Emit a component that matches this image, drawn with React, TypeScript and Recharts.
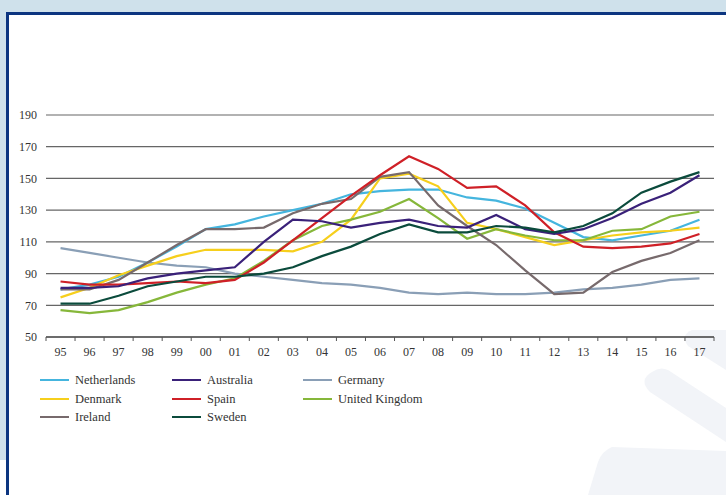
import React from "react";
import { LineChart, Line, XAxis, YAxis, CartesianGrid } from "recharts";

// House price index, 1995–2017
const years = ["95", "96", "97", "98", "99", "00", "01", "02", "03", "04", "05", "06", "07", "08", "09", "10", "11", "12", "13", "14", "15", "16", "17"];

const netherlands = [80, 83, 88, 97, 107, 118, 121, 126, 130, 134, 140, 142, 143, 143, 138, 136, 131, 122, 113, 111, 114, 117, 124];
const australia = [81, 81, 82, 87, 90, 92, 94, 110, 124, 123, 119, 122, 124, 120, 119, 127, 118, 115, 118, 125, 134, 141, 152];
const germany = [106, 103, 100, 97, 95, 94, 90, 88, 86, 84, 83, 81, 78, 77, 78, 77, 77, 78, 80, 81, 83, 86, 87];
const denmark = [75, 81, 89, 95, 101, 105, 105, 105, 104, 110, 124, 150, 153, 145, 122, 118, 113, 108, 111, 114, 116, 117, 119];
const spain = [85, 83, 83, 84, 85, 84, 86, 97, 111, 125, 139, 152, 164, 156, 144, 145, 133, 116, 107, 106, 107, 109, 115];
const unitedKingdom = [67, 65, 67, 72, 78, 83, 87, 98, 111, 120, 124, 129, 137, 125, 112, 118, 114, 111, 111, 117, 118, 126, 129];
const ireland = [80, 80, 86, 97, 108, 118, 118, 119, 128, 134, 137, 151, 154, 133, 120, 108, 92, 77, 78, 91, 98, 103, 111];
const sweden = [71, 71, 76, 82, 85, 88, 88, 90, 94, 101, 107, 115, 121, 116, 116, 120, 119, 116, 120, 128, 141, 148, 154];

const yTicks = [50, 70, 90, 110, 130, 150, 170, 190];

// legend order (3 columns, row by row)
const legendOrder = ["Netherlands", "Australia", "Germany", "Denmark", "Spain", "United Kingdom", "Ireland", "Sweden"];

const series = [
  { name: "Germany", color: "#8a9fb6", values: germany },
  { name: "Netherlands", color: "#45b5de", values: netherlands },
  { name: "Denmark", color: "#f6cf1c", values: denmark },
  { name: "United Kingdom", color: "#86b73a", values: unitedKingdom },
  { name: "Ireland", color: "#776a6c", values: ireland },
  { name: "Spain", color: "#cf2027", values: spain },
  { name: "Australia", color: "#3a2179", values: australia },
  { name: "Sweden", color: "#0b4b3c", values: sweden },
];

const data = years.map((year, i) => {
  const row: Record<string, number | string> = { i, year };
  series.forEach((s) => (row[s.name] = s.values[i]));
  return row;
});

const FONT = "'Liberation Serif', 'DejaVu Serif', serif";
const TEXT = "#333";
const AXIS = "#555";
const TICK_MARGIN = 10;
const PLOT_W = 726 - 46 - 12;

// year label centred in its band, with tick marks on the band edges
function YearTick(props: any) {
  const { x, y, payload } = props;
  const w = typeof props.width === "number" && props.width > 0 ? props.width : PLOT_W;
  const half = w / years.length / 2;
  const axisY = y - TICK_MARGIN;
  const last = payload.value === years.length - 1;
  return (
    <g>
      <line x1={x - half} x2={x - half} y1={axisY} y2={axisY + 4} stroke={AXIS} strokeWidth={1} />
      {last && <line x1={x + half} x2={x + half} y1={axisY} y2={axisY + 4} stroke={AXIS} strokeWidth={1} />}
      <text x={x} y={axisY + 19} textAnchor="middle" fontSize={12} fill={TEXT} fontFamily={FONT}>
        {years[payload.value]}
      </text>
    </g>
  );
}

function Legend() {
  const colorOf = (n: string) => series.find((s) => s.name === n)!.color;
  const colX = [40, 172, 303];
  const rowY = [371, 390, 408];
  return (
    <div style={{ position: "absolute", left: 0, top: 0 }}>
      {legendOrder.map((name, k) => {
        const left = colX[k % 3];
        const top = rowY[Math.floor(k / 3)];
        return (
          <div key={name} style={{ position: "absolute", left, top, display: "flex", alignItems: "center", whiteSpace: "nowrap" }}>
            <div style={{ width: 29, height: 2, background: colorOf(name), marginRight: 6 }} />
            <span style={{ fontFamily: FONT, fontSize: 12.5, color: TEXT, lineHeight: "18px" }}>{name}</span>
          </div>
        );
      })}
    </div>
  );
}

export default function App() {
  return (
    <div style={{ position: "absolute", left: 0, top: 0, width: 726, height: 495, overflow: "hidden", background: "#cfe1eb" }}>
      <div style={{ position: "absolute", left: 0, top: 460, width: 8, height: 40, background: "#fff" }} />
      <div
        style={{
          position: "absolute",
          left: 6,
          top: 12,
          width: 760,
          height: 520,
          background: "#fff",
          borderLeft: "3px solid #0c3580",
          borderTop: "3px solid #0c3580",
        }}
      />
      <svg width={726} height={495} style={{ position: "absolute", left: 0, top: 0 }}>
        <path d="M692 330 Q680 335 688 346 L726 370 L726 330 Z" fill="#f2f4f8" />
        <path d="M652 372 Q638 380 650 392 L726 442 L726 408 L668 370 Q660 366 652 372 Z" fill="#f2f4f8" />
        <path d="M612 447 Q602 451 598 462 L588 495 L726 495 L726 451 Z" fill="#f2f4f8" />
      </svg>
      <div style={{ position: "absolute", left: 0, top: 0 }}>
        <LineChart width={726} height={440} data={data} margin={{ top: 115, right: 12, left: 0, bottom: 73 }}>
          <CartesianGrid vertical={false} stroke="#666" strokeWidth={1.2} />
          <XAxis
            dataKey="i"
            type="number"
            domain={[-0.5, years.length - 0.5]}
            ticks={years.map((_, i) => i)}
            interval={0}
            height={30}
            tickSize={0}
            tickMargin={TICK_MARGIN}
            tickLine={false}
            axisLine={{ stroke: AXIS, strokeWidth: 1.3 }}
            tick={<YearTick />}
          />
          <YAxis
            type="number"
            domain={[50, 190]}
            ticks={yTicks}
            interval={0}
            width={46}
            axisLine={false}
            tickLine={false}
            tickSize={0}
            tickMargin={9}
            tick={{ fontSize: 12, fill: TEXT, fontFamily: FONT }}
          />
          {series.map((s) => (
            <Line
              key={s.name}
              type="linear"
              dataKey={s.name}
              stroke={s.color}
              strokeWidth={2.2}
              dot={false}
              activeDot={false}
              isAnimationActive={false}
            />
          ))}
        </LineChart>
      </div>
      <Legend />
    </div>
  );
}
